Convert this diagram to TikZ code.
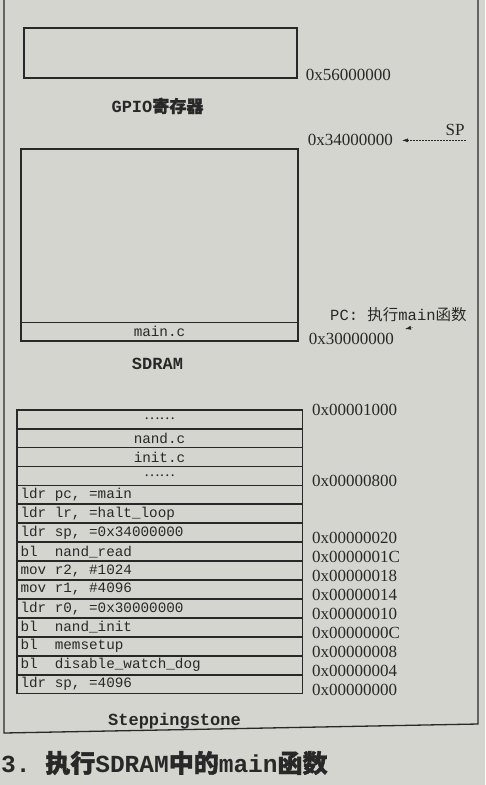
\documentclass[tikz,border=0pt]{standalone}
\usepackage{fontspec}
\setmainfont{Liberation Serif}
\setmonofont{Liberation Mono}
\newfontfamily\cjk{Noto Sans CJK SC}
\newfontfamily\cjkbold[FakeBold=1.5]{Noto Sans CJK SC}
\usetikzlibrary{positioning,fit,arrows.meta}
\definecolor{paper}{RGB}{213,213,207}
\definecolor{ink}{RGB}{40,40,40}
% a space as wide as one mono letter
\newcommand\csp{\hspace*{0.6em}}
\tikzset{
  box/.style={draw=ink, line width=1.3pt},
  row/.style={draw=ink, line width=0.8pt, minimum height=18.13pt, text width=278pt,
    inner xsep=3.5pt, inner ysep=0pt, align=left, font=\fontsize{14.3}{16}\ttfamily},
  crow/.style={row, align=center},
  addr/.style={anchor=west, inner sep=0pt, font=\fontsize{17}{20}\selectfont},
  addrup/.style={addr, yshift=4pt},
  title/.style={inner sep=0pt, font=\fontsize{17}{20}\ttfamily\bfseries},
  ptr/.style={-{Latex[length=6pt,width=4pt]}, densely dotted, line width=0.5pt},
}
\begin{document}
\begin{tikzpicture}[x=1pt, y=-1pt, color=ink]
	\fill[paper] (0,0) rectangle (485,785);
	\useasboundingbox (0,0) rectangle (485,785);
	% page frame
	\draw[box] (4,-5) -- (4,733) -- (478,724) -- (478,-5);

	% GPIO registers
	\node[box, minimum width=273pt, minimum height=50pt, inner sep=0pt] (gpio) at (160.5,53) {};
	\node[addr] (a56) at ([xshift=8pt,yshift=4pt]gpio.south east) {0x56000000};
	\node[title, below=19pt of gpio, xshift=-3pt] (gpiolbl) {GPIO{\cjkbold 寄存器}};

	% SDRAM
	\node[box, minimum width=277pt, minimum height=192pt, inner sep=0pt] (sdram) at (159.5,245) {};
	\node[crow, anchor=south, text width=270pt, minimum height=19pt] (mainc) at (sdram.south) {main.c};
	\node[addr] (a34) at ([xshift=9pt,yshift=8pt]sdram.north east) {0x34000000};
	\node[addr] (a30) at ([xshift=10pt,yshift=3pt]sdram.south east) {0x30000000};
	\node[inner sep=1pt, font=\fontsize{17}{20}\selectfont] (sp) at (455,130) {SP};
	\node[anchor=west, inner sep=0pt, font=\fontsize{15.5}{18}\ttfamily] (pc) at (330,315)
		{PC:\csp{\cjk 执行}main{\cjk 函数}};
	\coordinate (pctip) at (405,329);
	\draw[ptr, shorten >=9pt] (sp.south east |- a34.east) -- (a34.east);
	\draw[ptr] ([xshift=-54pt,yshift=-5pt]pc.south east) -- (pctip);
	\node[title, below=16pt of sdram, xshift=-2pt] (sdramlbl) {SDRAM};

	% Steppingstone
	\node[crow] (r1) at (159.5,419.07) {{\cjk ……}};
	\node[crow, below=0pt of r1] (r2) {nand.c};
	\node[crow, below=0pt of r2] (r3) {init.c};
	\node[crow, below=0pt of r3] (r4) {{\cjk ……}};
	\node[row, below=0pt of r4] (r5) {ldr\csp pc,\csp =main};
	\node[row, below=0pt of r5] (r6) {ldr\csp lr,\csp =halt\_loop};
	\node[row, below=0pt of r6] (r7) {ldr\csp sp,\csp =0x34000000};
	\node[row, below=0pt of r7] (r8) {bl\csp\csp nand\_read};
	\node[row, below=0pt of r8] (r9) {mov\csp r2,\csp \#1024};
	\node[row, below=0pt of r9] (r10) {mov\csp r1,\csp \#4096};
	\node[row, below=0pt of r10] (r11) {ldr\csp r0,\csp =0x30000000};
	\node[row, below=0pt of r11] (r12) {bl\csp\csp nand\_init};
	\node[row, below=0pt of r12] (r13) {bl\csp\csp memsetup};
	\node[row, below=0pt of r13] (r14) {bl\csp\csp disable\_watch\_dog};
	\node[row, below=0pt of r14] (r15) {ldr\csp sp,\csp =4096};
	\node[box, fit=(r1)(r15), inner sep=0pt] (stone) {};
	\node[title, below=19pt of stone, xshift=15pt] (stonelbl) {Steppingstone};

	% addresses
	\coordinate (acol) at (312,0);
	\node[addr] (a1000) at (acol |- r1.north) {0x00001000};
	\node[addrup] (a800) at (acol |- r4.south) {0x00000800};
	\node[addrup] (a20) at (acol |- r7.south) {0x00000020};
	\node[addrup] (a1c) at (acol |- r8.south) {0x0000001C};
	\node[addrup] (a18) at (acol |- r9.south) {0x00000018};
	\node[addrup] (a14) at (acol |- r10.south) {0x00000014};
	\node[addrup] (a10) at (acol |- r11.south) {0x00000010};
	\node[addrup] (a0c) at (acol |- r12.south) {0x0000000C};
	\node[addrup] (a08) at (acol |- r13.south) {0x00000008};
	\node[addrup] (a04) at (acol |- r14.south) {0x00000004};
	\node[addrup] (a00) at (acol |- r15.south) {0x00000000};

	% caption
	\node[anchor=west, inner sep=0pt, font=\fontsize{24.5}{28}\ttfamily\bfseries] (caption) at (1,763)
		{3.\csp{\fontsize{25}{28}\cjkbold 执行}SDRAM{\fontsize{25}{28}\cjkbold 中的}main{\fontsize{25}{28}\cjkbold 函数}};
\end{tikzpicture}
\end{document}
